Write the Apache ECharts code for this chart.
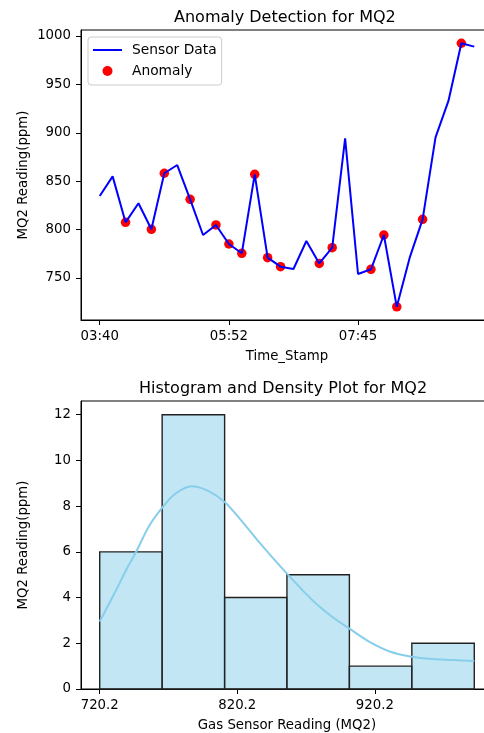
<!DOCTYPE html>
<html>
<head>
<meta charset="utf-8">
<script src="https://cdn.jsdelivr.net/npm/echarts@6/dist/echarts.min.js"></script>
<style>
html,body{margin:0;padding:0;overflow:hidden;background:#fff;width:484px;height:733px;}
#c{width:494px;height:733px;}
</style>
</head>
<body>
<div id="c"></div>
<script>
// ---- data ----
var sensorValues = [834.7, 855.0, 807.5, 827.2, 800.3, 858.2, 866.7, 831.3, 794.4, 804.8,
                    785.1, 775.5, 857.1, 771.0, 761.7, 759.3, 788.2, 765.0, 781.3, 894.3,
                    754.1, 759.0, 794.4, 720.2, 771.0, 810.6, 895.3, 932.9, 992.5, 989.0];
var anomalyIdx = [2, 4, 5, 7, 9, 10, 11, 12, 13, 14, 17, 18, 21, 22, 23, 25, 28];
var timeTickIdx = [0, 10, 20];
var timeTickLabels = ['03:40', '05:52', '07:45'];
var topYTicks = [750, 800, 850, 900, 950, 1000];

var binEdges = [720.2, 765.6, 811.0, 856.3, 901.7, 947.1, 992.5];
var binCounts = [6, 12, 4, 5, 1, 2];
var histXTicks = [720.2, 820.2, 920.2];
var histYTicks = [0, 2, 4, 6, 8, 10, 12];
var kdeX = [720.2, 731.3, 741.0, 747.1, 755.5, 765.2, 774.9, 787.0, 799.0, 811.2, 822.7,
            834.2, 845.7, 857.2, 867.5, 877.8, 889.6, 901.5, 916.0, 931.0, 946.8, 962.0, 977.0, 992.5];
var kdeY = [2.95, 4.23, 5.39, 6.05, 7.07, 7.9, 8.53, 8.87, 8.67, 8.17, 7.4,
            6.56, 5.76, 4.99, 4.33, 3.72, 3.14, 2.65, 2.07, 1.64, 1.41, 1.31, 1.27, 1.22];

// ---- build ----
var FONT = 'DejaVu Sans';
var FS = 13.3;
var lineData = sensorValues.map(function (v, i) { return [i, v]; });
var anomalyData = anomalyIdx.map(function (i) { return [i, sensorValues[i]]; });
var histData = binCounts.map(function (c, i) { return [binEdges[i], binEdges[i + 1], c]; });
var kdeData = kdeX.map(function (x, i) { return [x, kdeY[i]]; });

function tick(vals) { return { show: true, inside: false, length: 5, customValues: vals, lineStyle: { color: '#000', width: 1 } }; }
function label(vals, margin, fmt) { return { customValues: vals, margin: margin, fontFamily: FONT, fontSize: FS, color: '#000', formatter: fmt }; }
var base = {
  axisLine: { show: true, onZero: false, lineStyle: { color: '#000', width: 1 } },
  splitLine: { show: false },
  nameMoveOverlap: false,
  nameTextStyle: { fontFamily: FONT, fontSize: FS, color: '#000' }
};
function axis(extra) { var o = {}; for (var k in base) o[k] = base[k]; for (var j in extra) o[j] = extra[j]; return o; }
function plain(v) { return String(v); }

var chart = echarts.init(document.getElementById('c'), null, { renderer: 'canvas' });
chart.setOption({
  animation: false,
  backgroundColor: '#fff',
  graphic: [
    { type: 'text', left: 174, top: 10, style: { text: 'Anomaly Detection for MQ2', font: '16px "DejaVu Sans"', fill: '#000' } },
    { type: 'text', left: 139, top: 381, style: { text: 'Histogram and Density Plot for MQ2', font: '16px "DejaVu Sans"', fill: '#000' } }
  ],
  legend: {
    left: 88, top: 37, orient: 'vertical',
    backgroundColor: 'rgba(255,255,255,0.8)', borderColor: '#cccccc', borderWidth: 1, borderRadius: 3,
    padding: [6, 5, 7, 5],
    itemWidth: 29, itemHeight: 10, itemGap: 7,
    textStyle: { fontFamily: FONT, fontSize: 13.8, color: '#000', padding: [0, 0, 0, 5] },
    data: [
      { name: 'Sensor Data', icon: 'path://M0,0 L29,0 L29,2 L0,2 Z' },
      { name: 'Anomaly', icon: 'circle' }
    ]
  },
  grid: [
    { left: 81, top: 30, right: 1, height: 290, show: true, borderColor: '#000', borderWidth: 1, backgroundColor: 'transparent' },
    { left: 81, top: 401, right: 1, height: 289, show: true, borderColor: '#000', borderWidth: 1, backgroundColor: 'transparent' }
  ],
  xAxis: [
    axis({
      type: 'value', gridIndex: 0, min: -1.45, max: 30.45,
      name: 'Time_Stamp', nameLocation: 'middle', nameGap: 30,
      axisTick: tick(timeTickIdx),
      axisLabel: label(timeTickIdx, 10, function (v) { var k = timeTickIdx.indexOf(Math.round(v)); return k >= 0 ? timeTickLabels[k] : ''; })
    }),
    axis({
      type: 'value', gridIndex: 1, min: 706.6, max: 1006.1,
      name: 'Gas Sensor Reading (MQ2)', nameLocation: 'middle', nameGap: 30,
      axisTick: tick(histXTicks),
      axisLabel: label(histXTicks, 10, function (v) { return v.toFixed(1); })
    })
  ],
  yAxis: [
    axis({
      type: 'value', gridIndex: 0, min: 706.6, max: 1006.2,
      name: 'MQ2 Reading(ppm)', nameLocation: 'middle', nameGap: 51, nameRotate: 90,
      axisTick: tick(topYTicks),
      axisLabel: label(topYTicks, 10, plain)
    }),
    axis({
      type: 'value', gridIndex: 1, min: 0, max: 12.6,
      name: 'MQ2 Reading(ppm)', nameLocation: 'middle', nameGap: 51, nameRotate: 90,
      axisTick: tick(histYTicks),
      axisLabel: label(histYTicks, 10, plain)
    })
  ],
  series: [
    {
      name: 'Sensor Data', type: 'line', xAxisIndex: 0, yAxisIndex: 0,
      data: lineData, symbol: 'none', lineStyle: { color: '#0000ff', width: 2 }, itemStyle: { color: '#0000ff' }, z: 3
    },
    {
      name: 'Anomaly', type: 'scatter', xAxisIndex: 0, yAxisIndex: 0,
      data: anomalyData, symbol: 'circle', symbolSize: 9.5, itemStyle: { color: '#ff0000', opacity: 1 }, z: 2
    },
    {
      name: 'hist', type: 'custom', xAxisIndex: 1, yAxisIndex: 1, data: histData,
      renderItem: function (params, api) {
        var p0 = api.coord([api.value(0), api.value(2)]);
        var p1 = api.coord([api.value(1), 0]);
        return {
          type: 'rect',
          shape: { x: p0[0], y: p0[1], width: p1[0] - p0[0], height: p1[1] - p0[1] },
          style: { fill: 'rgba(135,206,235,0.5)', stroke: '#222', lineWidth: 1.4 }
        };
      },
      z: 2
    },
    {
      name: 'kde', type: 'line', xAxisIndex: 1, yAxisIndex: 1, data: kdeData, smooth: 0.3,
      symbol: 'none', lineStyle: { color: '#87ceeb', width: 2 }, z: 3
    }
  ]
});
</script>
</body>
</html>
